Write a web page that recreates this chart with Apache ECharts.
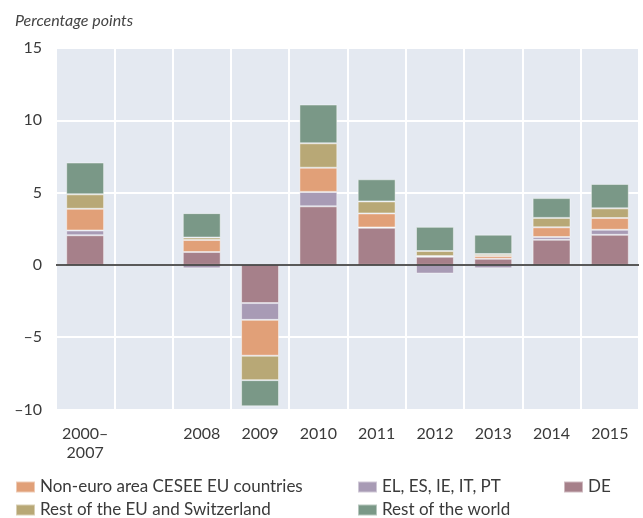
<!DOCTYPE html>
<html>
<head>
<meta charset="utf-8">
<script src="https://cdn.jsdelivr.net/npm/echarts@6/dist/echarts.min.js"></script>
<style>
  html, body { margin: 0; padding: 0; background: #fff; }
  #main { width: 643px; height: 518px; }
</style>
</head>
<body>
<div id="main"></div>
<script>
  // categories (one empty slot after 2000-2007)
  var categories = ['2000–\n2007', '', '2008', '2009', '2010', '2011', '2012', '2013', '2014', '2015'];

  // contributions, percentage points
  var deValues       = [2.05, null, 0.89, -2.64, 4.05, 2.57, 0.56, 0.42, 1.74, 2.08];
  var peripheryVals  = [0.33, null, -0.24, -1.16, 1.0, 0.02, -0.6, -0.23, 0.19, 0.35];
  var nonEuroVals    = [1.5, null, 0.83, -2.48, 1.67, 0.97, 0.05, 0.19, 0.67, 0.81];
  var restEuVals     = [1.0, null, 0.17, -1.69, 1.69, 0.83, 0.35, 0.14, 0.65, 0.67];
  var restWorldVals  = [2.2, null, 1.69, -1.81, 2.68, 1.53, 1.67, 1.34, 1.37, 1.69];

  var yTicks = [-10, -5, 0, 5, 10, 15];

  var names = {
    de: 'DE',
    periphery: 'EL, ES, IE, IT, PT',
    nonEuro: 'Non-euro area CESEE EU countries',
    restEu: 'Rest of the EU and Switzerland',
    restWorld: 'Rest of the world'
  };

  var fontFamily = 'Lato, "Open Sans", sans-serif';
  var textColor = '#3a3a3a';

  function barSeries(name, data, color) {
    return {
      name: name,
      type: 'bar',
      stack: 'total',
      barWidth: '65%',
      data: data,
      itemStyle: {
        color: color,
        borderColor: 'rgba(255,255,255,0.45)',
        borderWidth: 1
      }
    };
  }

  var series = [
    barSeries(names.de, deValues, '#a6808a'),
    barSeries(names.periphery, peripheryVals, '#a89bb5'),
    barSeries(names.nonEuro, nonEuroVals, '#e1a078'),
    barSeries(names.restEu, restEuVals, '#b8a876'),
    barSeries(names.restWorld, restWorldVals, '#7a9887')
  ];
  // zero line
  series[0].markLine = {
    silent: true,
    symbol: 'none',
    label: { show: false },
    lineStyle: { color: '#222', width: 1.5, type: 'solid' },
    data: [{ yAxis: 0 }]
  };

  function legend(left, items) {
    return {
      orient: 'vertical',
      left: left,
      top: 478,
      height: 60,
      width: 300,
      padding: 0,
      itemWidth: 19,
      itemHeight: 11,
      itemGap: 5,
      icon: 'rect',
      selectedMode: false,
      data: items,
      textStyle: { fontFamily: fontFamily, fontSize: 17, color: textColor, lineHeight: 18 }
    };
  }

  var chart = echarts.init(document.getElementById('main'), null, { renderer: 'canvas' });
  chart.setOption({
    animation: false,
    title: {
      text: 'Percentage points',
      left: 10,
      top: 8,
      textStyle: { fontFamily: fontFamily, fontSize: 16, fontStyle: 'italic', fontWeight: 'normal', color: '#444' }
    },
    grid: {
      left: 56, right: 4, top: 48, bottom: 108.5,
      show: true,
      backgroundColor: '#e4e9f1',
      borderWidth: 0
    },
    legend: [
      legend(15, [names.nonEuro, names.restEu]),
      legend(357, [names.periphery, names.restWorld]),
      legend(563, [names.de])
    ],
    xAxis: {
      type: 'category',
      data: categories,
      axisLine: { show: false },
      axisTick: { show: false },
      splitLine: { show: true, lineStyle: { color: '#ffffff', width: 2 } },
      axisLabel: {
        fontFamily: fontFamily, fontSize: 16, color: textColor,
        margin: 15, lineHeight: 19, interval: 0
      }
    },
    yAxis: {
      type: 'value',
      min: yTicks[0],
      max: yTicks[yTicks.length - 1],
      interval: 5,
      axisLine: { show: false },
      axisTick: { show: false },
      splitLine: { show: true, lineStyle: { color: '#ffffff', width: 2 } },
      axisLabel: {
        fontFamily: fontFamily, fontSize: 16, color: textColor, margin: 14,
        formatter: function (v) { return String(v).replace('-', '–'); }
      }
    },
    series: series
  });
</script>
</body>
</html>
